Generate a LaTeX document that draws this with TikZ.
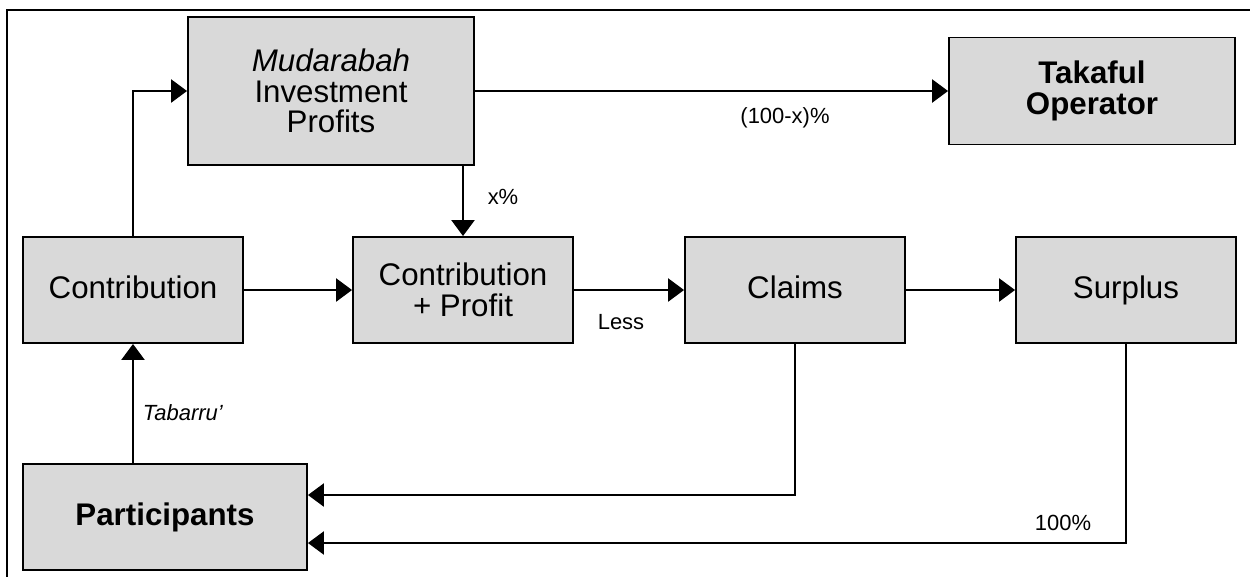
\documentclass[tikz,border=0pt]{standalone}
\usepackage{fontspec}
\setmainfont{Liberation Sans}
\usetikzlibrary{arrows.meta}

\begin{document}
\begin{tikzpicture}[x=0.02cm, y=-0.02cm,
    box/.style={draw, line width=1.1pt, fill=black!15, align=center,
        font=\fontsize{17.8}{17.5}\selectfont, inner sep=0pt},
    flow/.style={line width=1.4pt, -{Triangle[length=0.32cm, width=0.46cm]}},
    lbl/.style={font=\fontsize{12.5}{14}\selectfont, inner sep=0pt}]
    \useasboundingbox (0,0) rectangle (1250,576);
    % frame
    \draw[line width=1.5pt] (7,600) -- (7,10) -- (1265,10);
    % top row
    \node[box, minimum width=5.72cm, minimum height=2.96cm] (mud) at (331,91) {\textit{Mudarabah}\\Investment\\Profits};
    \node[box, minimum width=5.72cm, minimum height=2.14cm] (tak) at (1092,91) {\textbf{Takaful}\\\textbf{Operator}};
    % middle row
    \node[box, minimum width=4.4cm, minimum height=2.12cm] (con) at (133,290) {Contribution\vphantom{p}};
    \node[box, minimum width=4.4cm, minimum height=2.12cm] (cp) at (463,290) {Contribution\\+ Profit};
    \node[box, minimum width=4.4cm, minimum height=2.12cm] (cla) at (795,290) {Claims\vphantom{p}};
    \node[box, minimum width=4.4cm, minimum height=2.12cm] (sur) at (1126,290) {Surplus};
    % bottom
    \node[box, minimum width=5.68cm, minimum height=2.12cm] (par) at (165,517) {\textbf{Participants}};
    % flows
    \draw[flow] (con.north) |- (mud.west);
    \draw[flow] (mud.east) -- (tak.west);
    \draw[flow] (cp.north |- mud.south) -- (cp.north);
    \draw[flow] (con) -- (cp);
    \draw[flow] (cp) -- (cla);
    \draw[flow] (cla) -- (sur);
    \draw[flow] (con.south |- par.north) -- (con.south);
    \draw[flow] (cla.south) |- ([yshift=0.44cm]par.east);
    \draw[flow] (sur.south) |- ([yshift=-0.52cm]par.east);
    % labels
    \node[lbl] (pct) at (503,197) {x\%};
    \node[lbl] (opr) at (785,118) {(100-x)\%};
    \node[lbl] (less) at (621,322) {Less};
    \node[lbl] (tab) at (183,413) {\textit{Tabarru'}};
    \node[lbl] (full) at (1063,523) {100\%};
\end{tikzpicture}
\end{document}
